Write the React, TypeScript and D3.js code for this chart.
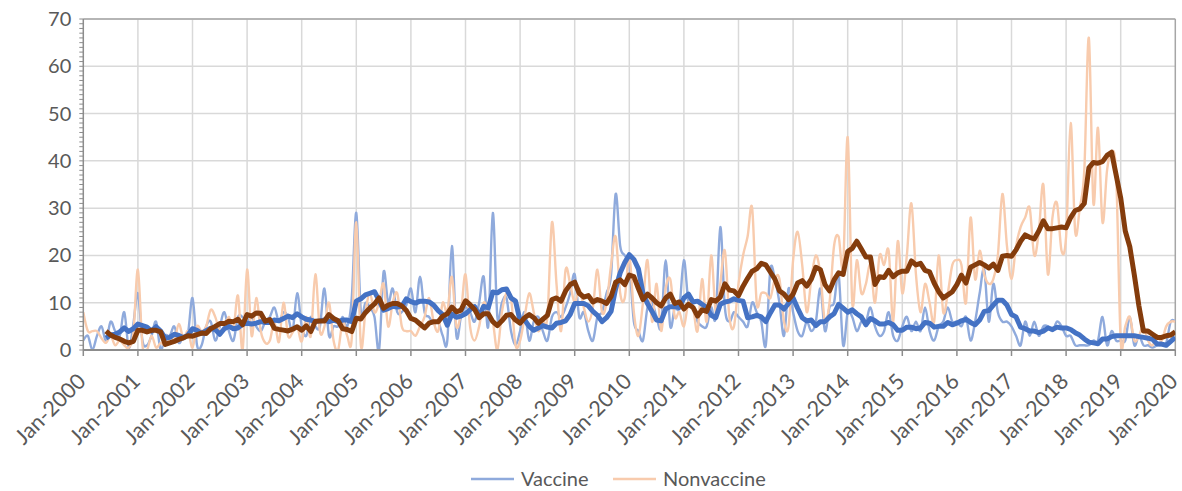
import React from "react";
import * as d3 from "d3";

// monthly values, Jan-2000 .. Jan-2020 (241 points)
const vaccine = [
  2, 3, 0, 3, 5, 2, 6, 4, 3, 8, 0.5, 5.5,
  12, 2, 1, 3, 6, 0, 3, 3, 5, 1.5, 3, 3.5,
  11, 1, 1, 5, 6, 2, 5, 8, 4, 2, 7, 7,
  6, 7, 5, 4, 6, 7, 9, 6, 8, 7, 4, 12,
  5, 3, 7, 5, 5, 13, 3, 5, 5, 7, 5, 11,
  29, 8, 10, 9, 7, 0, 16.5, 10, 13, 8, 8, 9.5,
  13, 8, 15.5, 8, 7, 5.5, 6, 3, 2, 22, 3, 7,
  9, 8, 6, 10, 15.5, 5, 29, 7, 10, 11, 4, 1,
  4, 8, 2, 6, 7, 4, 2, 7, 8, 7, 9, 12,
  16, 7, 8, 4, 2, 7, 8, 12, 16, 33, 22, 20,
  18, 6, 4, 2, 9, 10, 7, 5, 19, 5, 9, 9,
  19, 10, 9, 6, 5, 5, 9, 7, 26, 9, 6, 8,
  7, 6, 5, 10, 8, 6, 1, 17, 15, 10, 3, 13,
  8, 4, 3, 6, 4, 6, 13, 4, 9, 10, 16, 1,
  8, 7, 4, 6, 6, 9, 5, 3, 4, 8, 3, 2,
  5, 7, 4, 6, 4, 9, 4, 2, 5, 6, 9, 6,
  6, 5, 7, 2, 6, 12, 17, 6, 14, 8, 6, 6,
  5, 3, 1, 6, 3, 6, 3, 5, 5, 4, 6, 5,
  3, 3, 1, 1, 1, 1, 2, 2, 7, 1, 4, 2,
  2, 2, 7, 1, 3, 1, 1, 0.5, 1, 1, 1.5, 6,
  6,
];

const nonvaccine = [
  8, 4, 4, 4, 2.5, 1.5, 3, 1, 2, 1, 0.5, 3.5,
  17, 1, 0, 3, 0.5, 1.5, 1, 3, 2, 5.5, 2.5, 4,
  0.5, 5, 4, 5, 8.5, 7, 4, 5, 7, 4.5, 11.5, 0,
  17, 3, 11, 4, 1.5, 2, 6, 1.7, 10, 3, 3.7, 5,
  1.8, 7, 3, 16, 4, 5, 10, 2, 0, 6, 3, 2.4,
  27, 1, 8, 12, 8, 10, 14, 5, 10, 12, 5, 4,
  4, 3, 5, 7, 11, 6, 4, 10, 8, 15.5, 5, 8,
  16, 5, 2, 5, 10, 8, 6, 0, 8, 12, 11, 1,
  2, 7, 12, 8, 4, 6, 7, 27, 14, 4, 17, 14,
  10, 13, 9, 6, 9, 17, 8, 10, 18, 24, 12, 11,
  20, 8, 3, 10, 19, 6, 14, 4, 13, 15, 7, 8,
  5, 10, 9, 4, 15, 6, 20, 8, 14, 21, 7, 5,
  14, 20, 24, 30, 10, 12, 12, 11, 15, 15, 6, 5,
  19, 25, 18, 8, 15, 20, 16, 6, 10, 22, 24, 18,
  45, 10, 19, 12, 14, 18, 10, 20, 18, 21, 6, 23,
  12, 20, 31, 16, 8, 14, 10, 6, 20, 8, 12, 18,
  19, 18, 10, 28, 15, 21, 16, 14, 15, 20, 33, 22,
  15, 22, 26, 28, 30, 20, 25, 35, 16, 28, 31, 21,
  24, 48, 25, 30, 38, 66, 31, 47, 27, 38, 42, 37,
  2, 5, 7, 2, 3, 5, 2, 1, 3, 2, 5, 6,
  6,
];

const yTicks = [0, 10, 20, 30, 40, 50, 60, 70];
const years = d3.range(2000, 2021);
const yearLabels = years.map(y => `Jan-${y}`);
const seriesNames = ["Vaccine", "Nonvaccine"];
const maPeriod = 6;

// trailing moving average like an Excel trendline
const movingAverage = (values: number[], period: number) =>
  values
    .map((_, i) => (i < period - 1 ? null : d3.mean(values.slice(i - period + 1, i + 1))!))
    .map((v, i) => ({ i, v }))
    .filter(d => d.v !== null) as { i: number; v: number }[];

const W = 1182;
const H = 491;
const margin = { top: 19, right: 6.7, bottom: 141, left: 83.3 };

const App: React.FC = () => {
  const x = d3.scaleLinear().domain([0, 240]).range([margin.left, W - margin.right]);
  const y = d3.scaleLinear().domain([0, 70]).range([H - margin.bottom, margin.top]);
  const x0 = x(0), x1 = x(240), y0 = y(0), y1 = y(70);

  const rawLine = d3
    .line<number>()
    .x((_, i) => x(i))
    .y(d => y(d))
    .curve(d3.curveCatmullRom.alpha(0));

  const maLine = d3
    .line<{ i: number; v: number }>()
    .x(d => x(d.i))
    .y(d => y(d.v));

  const font = "Lato, 'Open Sans', sans-serif";
  const textColor = "#595959";
  const grid = "#d9d9d9";
  const axisColor = "#8c8c8c";

  return (
    <svg
      width={W}
      height={H}
      style={{ position: "absolute", left: 0, top: 0, background: "#fff" }}
      fontFamily={font}
    >
      <defs>
        <clipPath id="plot">
          <rect x={x0} y={y1} width={x1 - x0} height={y0 - y1} />
        </clipPath>
      </defs>

      {/* gridlines */}
      {yTicks.slice(1).map(t => (
        <line key={"h" + t} x1={x0} x2={x1} y1={y(t)} y2={y(t)} stroke={grid} strokeWidth={1.5} />
      ))}
      {years.slice(1, -1).map((yr, k) => (
        <line key={"v" + yr} x1={x((k + 1) * 12)} x2={x((k + 1) * 12)} y1={y1} y2={y0} stroke={grid} strokeWidth={1.5} />
      ))}

      {/* plot border top/right */}
      <line x1={x0} x2={x1} y1={y1} y2={y1} stroke="#a6a6a6" strokeWidth={1.5} />
      <line x1={x1} x2={x1} y1={y1} y2={y0} stroke="#a6a6a6" strokeWidth={1.5} />

      {/* series */}
      <g clipPath="url(#plot)" fill="none" strokeLinejoin="round">
        <path d={rawLine(vaccine)!} stroke="#8faadc" strokeWidth={2.4} />
        <path d={rawLine(nonvaccine)!} stroke="#f8cbad" strokeWidth={2.4} />
        <path d={maLine(movingAverage(vaccine, maPeriod))!} stroke="#4472c4" strokeWidth={5} />
        <path d={maLine(movingAverage(nonvaccine, maPeriod))!} stroke="#843c0c" strokeWidth={5} />
      </g>

      {/* y axis */}
      <line x1={x0} x2={x0} y1={y1} y2={y0} stroke={axisColor} strokeWidth={1.5} />
      {d3.range(0, 71).map(t => (
        <line key={"yt" + t} x1={x0 - 4} x2={x0} y1={y(t)} y2={y(t)} stroke={axisColor} strokeWidth={1} />
      ))}
      {yTicks.map(t => (
        <text key={"yl" + t} x={x0 - 12} y={y(t)} dy="0.35em" textAnchor="end" fontSize={20} fill={textColor}>
          {t}
        </text>
      ))}

      {/* x axis */}
      <line x1={x0} x2={x1} y1={y0} y2={y0} stroke={axisColor} strokeWidth={2} />
      {years.map((yr, k) => (
        <line key={"xt" + yr} x1={x(k * 12)} x2={x(k * 12)} y1={y0} y2={y0 + 6} stroke={axisColor} strokeWidth={1.5} />
      ))}
      {yearLabels.map((lab, k) => (
        <text
          key={lab}
          transform={`translate(${x(k * 12) - 2},${y0 + 27}) rotate(-45)`}
          textAnchor="end"
          dominantBaseline="central"
          fontSize={21.5}
          fill={textColor}
        >
          {lab}
        </text>
      ))}

      {/* legend */}
      {seriesNames.map((name, k) => {
        const lx = k === 0 ? 471 : 613;
        const ly = 479;
        return (
          <g key={name}>
            <line x1={lx} x2={lx + 43} y1={ly} y2={ly} stroke={k === 0 ? "#8faadc" : "#f8cbad"} strokeWidth={2.5} />
            <text x={lx + 50} y={ly} dy="0.35em" fontSize={20} fill={textColor}>
              {name}
            </text>
          </g>
        );
      })}
    </svg>
  );
};

export default App;
